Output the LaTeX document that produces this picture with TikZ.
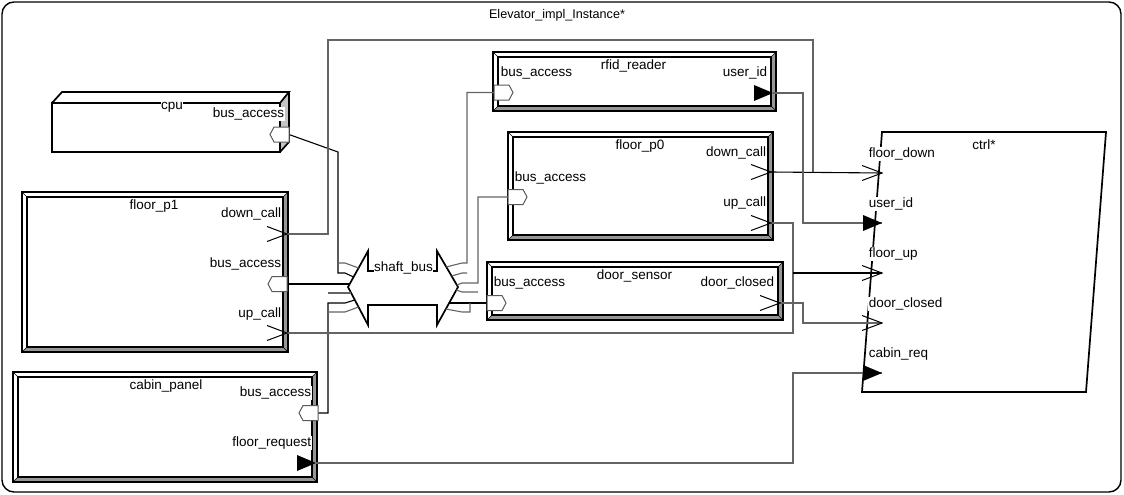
\documentclass[tikz,border=0pt]{standalone}
\usepackage{fontspec}
\setmainfont{Liberation Sans}
\definecolor{lg}{RGB}{100,100,100}
\definecolor{bevel}{RGB}{150,150,150}
\definecolor{side}{RGB}{195,195,195}
\definecolor{portgray}{RGB}{90,90,90}
\tikzset{
  every node/.style={font=\fontsize{13.5}{16}\selectfont, inner sep=0.6pt},
  lbl/.style={fill=white},
  comp/.style={draw, line width=1.7pt, fill=white, inner sep=0, outer sep=0,
    path picture={
      \fill[bevel] (path picture bounding box.north east) -- (path picture bounding box.south east)
        -- (path picture bounding box.south west) -- ([shift={(5pt,5pt)}]path picture bounding box.south west)
        -- ([shift={(-5pt,5pt)}]path picture bounding box.south east) -- ([shift={(-5pt,-5pt)}]path picture bounding box.north east) -- cycle;
      \draw[line width=1.2pt] ([shift={(5pt,-5pt)}]path picture bounding box.north west) rectangle ([shift={(-5pt,5pt)}]path picture bounding box.south east);
      \draw[line width=0.6pt] (path picture bounding box.north west) -- ++(5pt,-5pt)
        (path picture bounding box.north east) -- ++(-5pt,-5pt)
        (path picture bounding box.south west) -- ++(5pt,5pt)
        (path picture bounding box.south east) -- ++(-5pt,5pt);
    }},
  portline/.style={line width=1pt, draw=black},
  busp/.style={line width=1pt, draw=portgray, fill=white},
  conk/.style={line width=1.1pt, draw=black},
  cong/.style={line width=1.1pt, draw=lg},
}
\newcommand\myopenport[1]{\draw[portline] (#1) ++(-20pt,7.5pt) -- (#1) -- ++(-20pt,-7.5pt);}
\newcommand\myfillport[1]{\fill (#1) ++(-19pt,8pt) -- (#1) -- ++(-19pt,-8pt) -- cycle;}
\newcommand\mybusL[1]{\draw[busp] (#1) ++(0,7.5pt) -- ++(-15pt,0) -- ++(-4pt,-7.5pt) -- ++(4pt,-7.5pt) -- ++(15pt,0) -- cycle;}
\newcommand\mybusR[1]{\draw[busp] (#1) ++(0,7.5pt) -- ++(15pt,0) -- ++(4pt,-7.5pt) -- ++(-4pt,-7.5pt) -- ++(-15pt,0) -- cycle;}
\begin{document}
\begin{tikzpicture}[x=1pt,y=-1pt]
\useasboundingbox (0,0) rectangle (1124,495);
\fill[white] (0,0) rectangle (1124,495);
% outer frame
\node[draw, line width=1.4pt, rounded corners=12pt, minimum width=1119pt, minimum height=490pt, inner sep=0] (frame) at (561.5,247) {};
\node[font=\fontsize{12.6}{15}\selectfont, anchor=mid] (title) at (557,15.5) {Elevator\_impl\_Instance*};

% cpu (3D box)
\fill[side] (280,103) -- (289,92) -- (289,142) -- (280,152) -- cycle;
\draw[line width=1.7pt, line join=miter] (52,103) rectangle (280,152);
\draw[line width=1.7pt] (52,103) -- (62,92) -- (289,92) -- (280,103);
\draw[line width=1.7pt] (289,92) -- (289,142) -- (280,152);
\node[lbl, anchor=mid] (cpulbl) at (172,107) {cpu};
\node[lbl, anchor=mid east] (cpubuslbl) at (285,115) {bus\_access};

% components
\node[comp, minimum width=266pt, minimum height=160pt] (fp1) at (155,272) {};
\node[comp, minimum width=283pt, minimum height=59pt] (rfid) at (634.5,81.5) {};
\node[comp, minimum width=265pt, minimum height=108pt] (fp0) at (640.5,186) {};
\node[comp, minimum width=296pt, minimum height=58pt] (ds) at (635,291) {};
\node[comp, minimum width=304pt, minimum height=110pt] (cab) at (165,427) {};

% ctrl
\coordinate (c1) at (882,132); \coordinate (c2) at (1106,132);
\coordinate (c3) at (1086,392); \coordinate (c4) at (862,392);
\draw[line width=1.7pt, fill=white] (c1) -- (c2) -- (c3) -- (c4) -- cycle;

% shaft bus
\draw[line width=1.7pt, fill=white, line join=miter] (348,287) -- (368,251) -- (368,271) -- (437,271) -- (437,251) -- (458,287) -- (437,325) -- (437,305) -- (368,305) -- (368,325) -- cycle;

% port coordinates
\coordinate (cpu-bus) at (289,134.5);
\coordinate (fp1-down) at (287,234);
\coordinate (fp1-bus) at (287,284);
\coordinate (fp1-up) at (287,333);
\coordinate (rf-bus) at (494,92.5);
\coordinate (rf-uid) at (773,93);
\coordinate (fp0-down) at (771,172);
\coordinate (fp0-bus) at (508,197);
\coordinate (fp0-up) at (771,223);
\coordinate (ds-bus) at (487,303);
\coordinate (ds-dc) at (780,303);
\coordinate (cab-bus) at (318,413);
\coordinate (cab-req) at (316,463);
\coordinate (ct-fdown) at (882,173);
\coordinate (ct-uid) at (882,223);
\coordinate (ct-fup) at (882,273);
\coordinate (ct-dc) at (882,323);
\coordinate (ct-creq) at (882,373);

% connectors: shaft bus, left side
\draw[conk] (cpu-bus) -- (338,152) -- (338,273) -- (345,273) -- (353.6,277);
\draw[cong] (338,263) -- (345,263) -- (358.6,268);
\draw[conk] (fp1-bus) -- (349.5,284);
\draw[cong] (328,293) -- (345,293) -- (351.2,293);
\draw[conk] (cab-bus) -- (328,413) -- (328,303) -- (345,303) -- (354.8,300);
\draw[cong] (328,312) -- (345,312) -- (358.5,307);
% shaft bus, right side
\draw[cong] (rf-bus) -- (467,92.5) -- (467,263) -- (462,263) -- (446.3,267);
\draw[cong] (467,273) -- (462,273) -- (451.6,276);
\draw[cong] (fp0-bus) -- (478,197) -- (478,283) -- (462,283) -- (456.8,285);
\draw[cong] (478,292) -- (462,292) -- (456.3,290);
\draw[conk] (ds-bus) -- (449.2,303);
\draw[cong] (470,303) -- (470,312) -- (462,312) -- (445.8,309);

% connectors to ctrl
\draw[cong] (fp1-down) -- (328,234) -- (328,40) -- (813,40) -- (813,172.5);
\draw[conk] (fp0-down) -- (ct-fdown);
\draw[cong] (rf-uid) -- (803,93) -- (803,223) -- (ct-uid);
\draw[cong] (fp0-up) -- (793,223) -- (793,333) -- (fp1-up);
\draw[conk] (793,273) -- (ct-fup);
\draw[cong] (ds-dc) -- (803,303) -- (803,323) -- (ct-dc);
\draw[cong] (cab-req) -- (793,463) -- (793,373) -- (ct-creq);

% port symbols
\mybusL{cpu-bus}
\myopenport{fp1-down}
\mybusL{fp1-bus}
\myopenport{fp1-up}
\mybusR{rf-bus}
\myfillport{rf-uid}
\myopenport{fp0-down}
\mybusR{fp0-bus}
\myopenport{fp0-up}
\mybusR{ds-bus}
\myopenport{ds-dc}
\mybusL{cab-bus}
\myfillport{cab-req}
\myopenport{ct-fdown}
\myfillport{ct-uid}
\myopenport{ct-fup}
\myopenport{ct-dc}
\myfillport{ct-creq}

% labels
\node[lbl, anchor=mid] (shaftlbl) at (403.5,269) {shaft\_bus};

\node[anchor=mid] (fp1lbl) at (154,207) {floor\_p1};
\node[lbl, anchor=mid east] (fp1downlbl) at (282,215) {down\_call};
\node[lbl, anchor=mid east] (fp1buslbl) at (282,265) {bus\_access};
\node[lbl, anchor=mid east] (fp1uplbl) at (282,315) {up\_call};

\node[anchor=mid] (rflbl) at (633.5,67) {rfid\_reader};
\node[lbl, anchor=mid west] (rfbuslbl) at (500,74) {bus\_access};
\node[lbl, anchor=mid east] (rfuidlbl) at (768,74) {user\_id};

\node[anchor=mid] (fp0lbl) at (640,147) {floor\_p0};
\node[lbl, anchor=mid east] (fp0downlbl) at (767,154) {down\_call};
\node[lbl, anchor=mid west] (fp0buslbl) at (514,179) {bus\_access};
\node[lbl, anchor=mid east] (fp0uplbl) at (767,204) {up\_call};

\node[anchor=mid] (dslbl) at (634.5,277) {door\_sensor};
\node[lbl, anchor=mid west] (dsbuslbl) at (493,284) {bus\_access};
\node[lbl, anchor=mid east] (dsdclbl) at (775,284) {door\_closed};

\node[anchor=mid] (cablbl) at (166,387) {cabin\_panel};
\node[lbl, anchor=mid east] (cabbuslbl) at (312,394) {bus\_access};
\node[lbl, anchor=mid east] (cabreqlbl) at (312,444) {floor\_request};

\node[anchor=mid] (ctrl) at (984,147) {ctrl*};
\node[lbl, anchor=mid west] (ctfdownlbl) at (868,155) {floor\_down};
\node[lbl, anchor=mid west] (ctuidlbl) at (868,205) {user\_id};
\node[lbl, anchor=mid west] (ctfuplbl) at (868,255) {floor\_up};
\node[lbl, anchor=mid west] (ctdclbl) at (868,305) {door\_closed};
\node[lbl, anchor=mid west] (ctcreqlbl) at (868,355) {cabin\_req};
\end{tikzpicture}
\end{document}
